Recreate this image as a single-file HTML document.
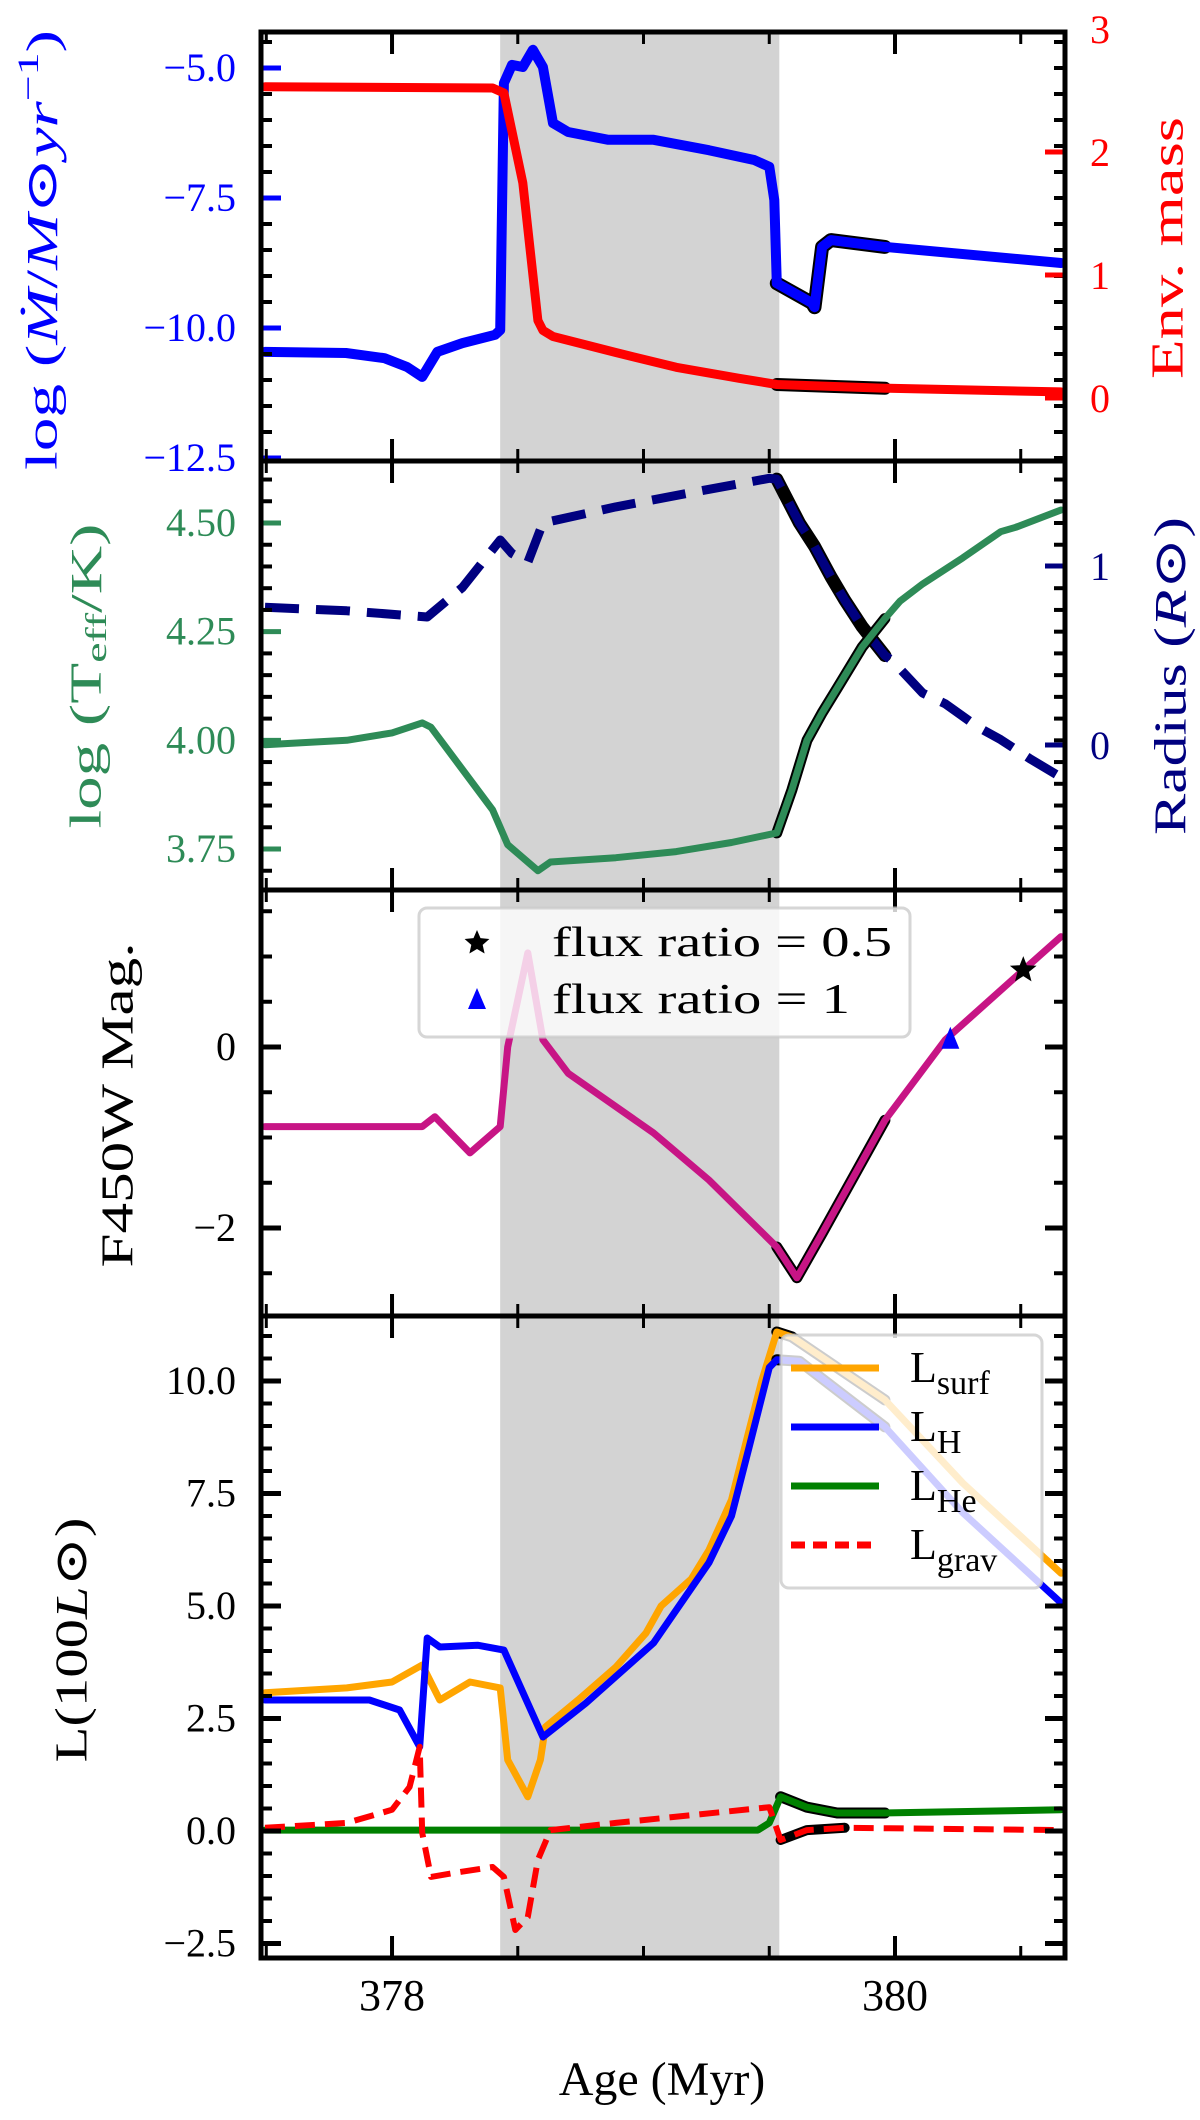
<!DOCTYPE html>
<html><head><meta charset="utf-8"><style>
html,body{margin:0;padding:0;background:#fff;}
svg{display:block;font-family:"Liberation Serif","DejaVu Serif",serif;}
</style></head><body>
<svg id="fig" width="1200" height="2120" viewBox="0 0 1200 2120" xmlns="http://www.w3.org/2000/svg"></svg>
<script>
// ---- data (age in Myr) ----
const mdotAge=[377.495,377.817,377.97,378.06,378.12,378.18,378.28,378.41,378.43,378.445,378.477,378.52,378.56,378.6,378.64,378.70,378.86,379.04,379.26,379.44,379.50,379.52,379.53,379.67,379.68,379.71,379.745,379.96,380.66];
const mdotVal=[-10.46,-10.48,-10.58,-10.75,-10.94,-10.46,-10.29,-10.13,-10.04,-5.29,-4.94,-4.98,-4.65,-4.98,-6.06,-6.23,-6.38,-6.38,-6.58,-6.77,-6.90,-7.54,-9.14,-9.52,-9.60,-8.44,-8.31,-8.44,-8.75];
const envAge=[377.495,378.40,378.445,378.52,378.58,378.60,378.64,378.89,379.13,379.38,379.53,379.96,380.66];
const envVal=[2.53,2.52,2.48,1.75,0.63,0.55,0.50,0.37,0.25,0.16,0.11,0.08,0.05];
const teffAge=[377.495,377.82,378.0,378.12,378.155,378.40,378.46,378.52,378.58,378.63,378.89,379.13,379.35,379.53,379.59,379.65,379.71,379.77,379.87,379.96,380.02,380.11,380.27,380.42,380.48,380.66];
const teffVal=[3.99,4.00,4.017,4.04,4.03,3.84,3.76,3.73,3.70,3.72,3.73,3.744,3.765,3.787,3.886,4.00,4.063,4.12,4.215,4.28,4.32,4.36,4.42,4.48,4.49,4.53];
const radAge=[377.495,377.82,378.14,378.28,378.43,378.477,378.54,378.60,378.89,379.19,379.50,379.53,379.62,379.68,379.745,379.80,379.87,379.96,379.99,380.11,380.20,380.33,380.42,380.54,380.66];
const radVal=[0.77,0.75,0.715,0.88,1.145,1.07,1.02,1.24,1.33,1.41,1.49,1.485,1.24,1.11,0.94,0.81,0.66,0.50,0.47,0.29,0.23,0.10,0.03,-0.08,-0.18];
const magAge=[377.495,378.12,378.17,378.31,378.43,378.46,378.54,378.60,378.70,379.04,379.26,379.53,379.61,379.71,379.96,380.20,380.51,380.66];
const magVal=[-0.88,-0.88,-0.77,-1.17,-0.88,0,1.04,0.08,-0.29,-0.95,-1.47,-2.21,-2.55,-2.06,-0.81,0.08,0.85,1.22];
const starAge=[380.51], starVal=[0.85];
const triAge=[380.22], triVal=[0.08];
const lsAge=[377.495,377.82,378.0,378.12,378.19,378.31,378.43,378.46,378.54,378.59,378.61,378.74,378.89,379.01,379.07,379.19,379.26,379.35,379.41,379.47,379.53,379.59,379.96,380.27,380.66];
const lsVal=[3.07,3.18,3.31,3.69,2.91,3.31,3.18,1.58,0.76,1.58,2.31,2.91,3.64,4.4,5.0,5.6,6.24,7.36,8.69,10.0,11.09,10.98,9.58,7.73,5.73];
const lhAge=[377.495,377.91,378.03,378.11,378.14,378.19,378.34,378.445,378.60,378.77,379.04,379.26,379.35,379.42,379.50,379.53,379.62,379.96,380.27,380.66];
const lhVal=[2.91,2.91,2.69,1.87,4.29,4.09,4.13,4.02,2.09,2.84,4.18,5.96,7.0,8.53,10.3,10.47,10.44,8.98,7.07,5.07];
const lheAge=[377.495,379.455,379.50,379.545,379.65,379.77,379.96,380.66];
const lheVal=[0.02,0.02,0.18,0.76,0.53,0.40,0.40,0.47];
const lgAge=[377.495,377.82,378.0,378.07,378.11,378.12,378.155,378.25,378.40,378.445,378.49,378.54,378.58,378.63,378.89,379.50,379.545,379.65,379.8,380.66];
const lgVal=[0.07,0.18,0.47,0.98,1.87,-0.04,-1.02,-0.93,-0.8,-1.02,-2.2,-1.91,-0.64,0.02,0.18,0.53,-0.2,0.02,0.07,0.02];
const xTicksMajor=[378,380];
const ageLo=377.479, ageHi=380.676, shadeLo=378.43, shadeHi=379.54, hiLo=379.53, hiHi=379.96;

const NS="http://www.w3.org/2000/svg";
const svg=document.getElementById('fig');
const L=261,R=1065;
function X(a){return L+(a-ageLo)/(ageHi-ageLo)*(R-L);}
function lin(v1,p1,v2,p2){return v=>p1+(v-v1)*(p2-p1)/(v2-v1);}
function inv(v1,p1,v2,p2){return p=>v1+(p-p1)*(v2-v1)/(p2-p1);}
function mk(tag,attrs,parent){const e=document.createElementNS(NS,tag);for(const k in attrs)e.setAttribute(k,attrs[k]);(parent||svg).appendChild(e);return e;}
function pts(ax,vals,f,lo,hi){let s=[];for(let i=0;i<ax.length;i++){if(lo!==undefined&&(ax[i]<lo-1e-9||ax[i]>hi+1e-9))continue;s.push(X(ax[i]).toFixed(1)+','+f(vals[i]).toFixed(1));}return s.join(' ');}

const panels=[
 {top:32,bot:461,id:'p1'},{top:461,bot:890,id:'p2'},{top:890,bot:1316,id:'p3'},{top:1316,bot:1958,id:'p4'}];
const defs=mk('defs',{});
panels.forEach(p=>{const c=mk('clipPath',{id:'clip-'+p.id},defs);mk('rect',{x:L,y:p.top,width:R-L,height:p.bot-p.top},c);});

function shade(p){const r=mk('rect',{x:X(shadeLo),y:p.top,width:X(shadeHi)-X(shadeLo),height:p.bot-p.top,fill:'#d3d3d3'});

}
panels.forEach(shade);

function series(p,ax,vals,f,color,w,name,dash){
 const g=mk('g',{'clip-path':'url(#clip-'+p.id+')'});
 
 
 const hp=pts(ax,vals,f,hiLo,hiHi);
 if(hp.split(' ').length>1){mk('polyline',{points:hp,fill:'none',stroke:'#000','stroke-width':w+4,'stroke-linejoin':'round','stroke-linecap':'round'},g);}
 const a={points:pts(ax,vals,f),fill:'none',stroke:color,'stroke-width':w,'stroke-linejoin':'round','stroke-linecap':dash?'butt':'round'};
 if(dash)a['stroke-dasharray']=dash;
 mk('polyline',a,g);
}
// scales
const y1L=lin(-5,68,-10,328), y1R=lin(0,398,2,152);
const y2L=lin(4.5,523,3.75,849), y2R=lin(0,745,1,566);
const y3=lin(0,1047,-2,1228);
const y4=lin(0,1831,10,1381);

series(panels[0],mdotAge,mdotVal,y1L,'#0000ff',10,'mass-loss-rate-line');
series(panels[0],envAge,envVal,y1R,'#ff0000',9,'envelope-mass-line');
series(panels[1],radAge,radVal,y2R,'#000080',9,'radius-line','34 17');
series(panels[1],teffAge,teffVal,y2L,'#2e8b57',7,'teff-line');
series(panels[2],magAge,magVal,y3,'#c71585',7,'f450w-mag-line');
series(panels[3],lsAge,lsVal,y4,'#ffa500',7,'l-surf-line');
series(panels[3],lhAge,lhVal,y4,'#0000ff',7,'l-h-line');
series(panels[3],lheAge,lheVal,y4,'#008000',7,'l-he-line');
series(panels[3],lgAge,lgVal,y4,'#ff0000',6,'l-grav-line','20 10');

// markers
starAge.forEach((a,i)=>{const cx=X(a),cy=y3(starVal[i]);let s=[];for(let k=0;k<10;k++){const r=k%2?6:14,t=-Math.PI/2+k*Math.PI/5;s.push((cx+r*Math.cos(t)).toFixed(1)+','+(cy+r*Math.sin(t)).toFixed(1));}
 const e=mk('polygon',{points:s.join(' '),fill:'#000'});
 
 });
triAge.forEach((a,i)=>{const cx=X(a),cy=y3(triVal[i]);
 const e=mk('polygon',{points:`${cx},${cy-13} ${cx+9},${cy+9} ${cx-9},${cy+9}`,fill:'#0000ff'});
 
 });

// axes frames and ticks
function tickY(x,y,len,dir,color,w){mk('line',{x1:x,y1:y,x2:x+dir*len,y2:y,stroke:color,'stroke-width':w});}
function yTicks(p,f,inv0,step,majors,majColor,side){
 const lo=inv0(p.bot),hi=inv0(p.top);const a=Math.min(lo,hi),b=Math.max(lo,hi);
 for(let v=Math.ceil(a/step-1e-6)*step;v<=b+1e-9;v+=step){const y=f(v);if(y<p.top+2||y>p.bot-2)continue;
  const isMaj=majors.some(m=>Math.abs(m-v)<1e-6);
  const x=side==='L'?L:R, d=side==='L'?1:-1;
  if(isMaj)tickY(x,y,20,d,majColor,5);else tickY(x,y,11,d,'#000',4);}
}
function xTicks(p){for(let a=377.5;a<=380.6;a+=0.5){const x=X(a);const maj=xTicksMajor.some(m=>Math.abs(m-a)<1e-6);const l=maj?22:12;
 mk('line',{x1:x,y1:p.top,x2:x,y2:p.top+l,stroke:'#000','stroke-width':maj?4:3});
 mk('line',{x1:x,y1:p.bot,x2:x,y2:p.bot-l,stroke:'#000','stroke-width':maj?4:3});}}
function label(x,y,t,color,anchor,size,name){const e=mk('text',{x:x,y:y,fill:color,'text-anchor':anchor,'font-size':size});e.textContent=t;
 
 return e;}

// panel 1
yTicks(panels[0],y1L,inv(-5,68,-10,328),0.5,[-5,-7.5,-10,-12.5],'#0000ff','L');
yTicks(panels[0],y1L,inv(-5,68,-10,328),0.5,[],'#000','R');
[0,1,2].forEach(v=>tickY(R,y1R(v),20,-1,'#ff0000',5));
[[-5,'−5.0'],[-7.5,'−7.5'],[-10,'−10.0'],[-12.5,'−12.5']].forEach(([v,t])=>label(236,y1L(v)+13,t,'#0000ff','end',40,'mdot-tick-label'));
[0,1,2,3].forEach(v=>label(1090,y1R(v)+14,String(v),'#ff0000','start',40,'env-mass-tick-label'));
// panel 2
yTicks(panels[1],y2L,inv(4.5,523,3.75,849),0.05,[4.5,4.25,4.0,3.75],'#2e8b57','L');
yTicks(panels[1],y2L,inv(4.5,523,3.75,849),0.05,[],'#000','R');
[0,1].forEach(v=>tickY(R,y2R(v),20,-1,'#000080',5));
[[4.5,'4.50'],[4.25,'4.25'],[4.0,'4.00'],[3.75,'3.75']].forEach(([v,t])=>label(236,y2L(v)+13,t,'#2e8b57','end',40,'teff-tick-label'));
[0,1].forEach(v=>label(1090,y2R(v)+14,String(v),'#000080','start',40,'radius-tick-label'));
// panel 3
yTicks(panels[2],y3,inv(0,1047,-2,1228),0.5,[0,-2],'#000','L');
yTicks(panels[2],y3,inv(0,1047,-2,1228),0.5,[0,-2],'#000','R');
[[0,'0'],[-2,'−2']].forEach(([v,t])=>label(236,y3(v)+13,t,'#000','end',40,'mag-tick-label'));
// panel 4
yTicks(panels[3],y4,inv(0,1831,10,1381),0.5,[-2.5,0,2.5,5,7.5,10],'#000','L');
yTicks(panels[3],y4,inv(0,1831,10,1381),0.5,[-2.5,0,2.5,5,7.5,10],'#000','R');
[[10,'10.0'],[7.5,'7.5'],[5,'5.0'],[2.5,'2.5'],[0,'0.0'],[-2.5,'−2.5']].forEach(([v,t])=>label(236,y4(v)+13,t,'#000','end',40,'lum-tick-label'));

panels.forEach(p=>{xTicks(p);const r=mk('rect',{x:L,y:p.top,width:R-L,height:p.bot-p.top,fill:'none',stroke:'#000','stroke-width':5});
 
 });
xTicksMajor.forEach(a=>label(X(a),2010,String(a),'#000','middle',44,'x-tick-label'));
label(662,2095,'Age (Myr)','#000','middle',48,'x-axis-title');

// rotated titles
function vtitle(cx,cy,html,color,size,len,name){const t=mk('text',{x:0,y:0,fill:color,'font-size':size,'text-anchor':'middle','dominant-baseline':'central',transform:`translate(${cx},${cy}) rotate(-90)`,textLength:len,lengthAdjust:'spacingAndGlyphs'});
 t.innerHTML=html;
 
 }
vtitle(42,250,'log (<tspan font-style="italic">Ṁ</tspan>/<tspan font-style="italic">M</tspan>⊙<tspan font-style="italic">yr</tspan><tspan dy="-14" font-size="30">−1</tspan><tspan dy="14">)</tspan>','#0000ff',44,440,'mdot-axis-title');
vtitle(1167,248,'Env. mass','#ff0000',46,262,'env-mass-axis-title');
vtitle(86,676,'log (T<tspan dy="10" font-size="30">eff</tspan><tspan dy="-10">/K)</tspan>','#2e8b57',44,305,'teff-axis-title');
vtitle(1170,676,'Radius (<tspan font-style="italic">R</tspan>⊙)','#000080',46,318,'radius-axis-title');
vtitle(117,1105,'F450W Mag.','#000',46,325,'mag-axis-title');
vtitle(71,1640,'L(100<tspan font-style="italic">L</tspan>⊙)','#000',46,245,'lum-axis-title');

// legend panel 3
const lg3=mk('g',{});


mk('rect',{x:419,y:908,width:491,height:129,rx:8,fill:'#fff','fill-opacity':0.8,stroke:'#cccccc','stroke-opacity':0.8,'stroke-width':3},lg3);
{let cx=477,cy=943,s=[];for(let k=0;k<10;k++){const r=k%2?6:13,t=-Math.PI/2+k*Math.PI/5;s.push((cx+r*Math.cos(t)).toFixed(1)+','+(cy+r*Math.sin(t)).toFixed(1));}mk('polygon',{points:s.join(' '),fill:'#000'},lg3);}
mk('polygon',{points:'477,988 486,1009 468,1009',fill:'#0000ff'},lg3);
{const t=mk('text',{x:552,y:956,'font-size':42,textLength:340,lengthAdjust:'spacingAndGlyphs'},lg3);t.textContent='flux ratio = 0.5';
 const t2=mk('text',{x:552,y:1013,'font-size':42,textLength:298,lengthAdjust:'spacingAndGlyphs'},lg3);t2.textContent='flux ratio = 1';}

// legend panel 4
const lg4=mk('g',{});


mk('rect',{x:781,y:1335,width:261,height:253,rx:8,fill:'#fff','fill-opacity':0.8,stroke:'#cccccc','stroke-opacity':0.8,'stroke-width':3},lg4);
[['#ffa500','surf',null],['#0000ff','H',null],['#008000','He',null],['#ff0000','grav','14 8']].forEach((d,i)=>{
 const y=1368+i*59;const a={x1:791,y1:y,x2:879,y2:y,stroke:d[0],'stroke-width':7};if(d[2])a['stroke-dasharray']=d[2];mk('line',a,lg4);
 const t=mk('text',{x:910,y:y+14,'font-size':44},lg4);t.innerHTML='L<tspan dy="12" font-size="34">'+d[1]+'</tspan>';});
</script>
</body></html>
